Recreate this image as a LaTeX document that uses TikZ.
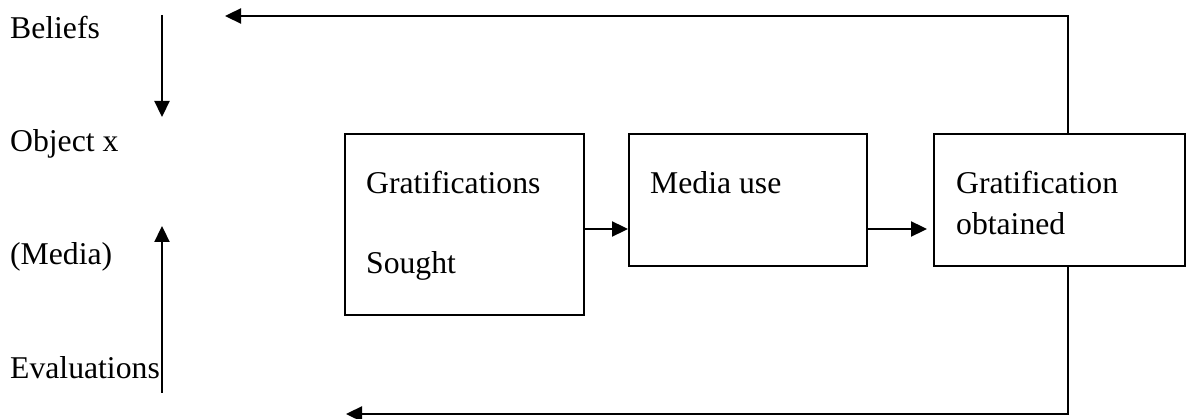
\documentclass[tikz,border=0pt]{standalone}
\usepackage{fontspec}
\setmainfont{Liberation Serif}
\usetikzlibrary{arrows.meta}

\begin{document}
\begin{tikzpicture}[x=1pt,y=-1pt,
  line width=2.3pt,
  txt/.style={inner sep=0pt,anchor=base west,font=\fontsize{31.7}{38}\selectfont},
  panel/.style={draw,line width=2.3pt,inner sep=0pt,anchor=north west},
  arr/.style={-{Triangle[length=16pt,width=15pt]}}]
  \useasboundingbox (0,0) rectangle (1186,419);

  % left column: belief / evaluation model
  \node[txt] (bel) at (9,39)   {Beliefs};
  \node[txt] (obj) at (9,152)  {Object x};
  \node[txt] (med) at (9,265)  {(Media)};
  \node[txt] (eva) at (9,379)  {Evaluations};

  \coordinate (downtop) at (162,15);
  \coordinate (downend) at (162,117);
  \coordinate (upbot)   at (162,393);
  \coordinate (uptop)   at (162,226);
  \draw[arr] (downtop) -- (downend);
  \draw[arr] (upbot) -- (uptop);

  % process boxes
  \node[panel,minimum width=239pt,minimum height=181pt] (gs) at (344,133) {};
  \node[panel,minimum width=238pt,minimum height=132pt] (mu) at (628,133) {};
  \node[panel,minimum width=251pt,minimum height=132pt] (go) at (933,133) {};

  \node[txt] (gs1) at (365,194) {Gratifications};
  \node[txt] (gs2) at (365,274) {Sought};
  \node[txt] (mu1) at (649,194) {Media use};
  \node[txt] (go1) at (955,194) {Gratification};
  \node[txt] (go2) at (955,235) {obtained};

  % flow between boxes
  \coordinate (flowy) at (0,229);
  \draw[arr] (gs.east |- flowy) -- (mu.west |- flowy);
  \draw[arr,shorten >=6pt] (mu.east |- flowy) -- (go.west |- flowy);

  % feedback loops
  \coordinate (fbtop) at (1068,16);
  \coordinate (fbtoptip) at (225,16);
  \coordinate (fbbot) at (1068,414);
  \coordinate (fbbottip) at (346,414);
  \draw[arr] (fbtop |- go.north) -- (fbtop) -- (fbtoptip);
  \draw[arr] (fbbot |- go.south) -- (fbbot) -- (fbbottip);
\end{tikzpicture}
\end{document}
